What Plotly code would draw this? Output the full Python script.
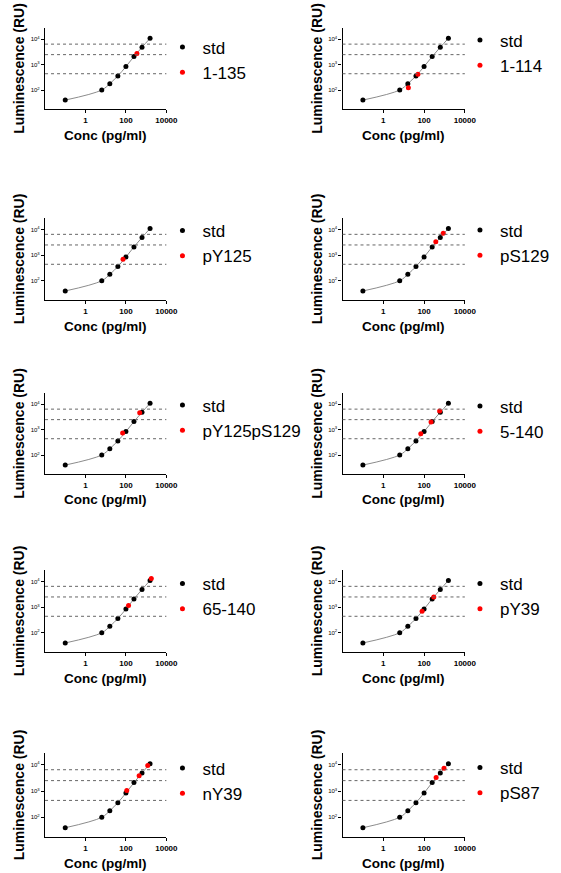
import plotly.graph_objects as go

# ---------------- data ----------------
std_conc = [0.1, 6.4, 16, 40, 100, 250, 625, 1562.5]
std_lum = [40, 100, 178, 360, 840, 2100, 4900, 11000]
threshold_lum = [6500, 2500, 440]

sample_names = ["1-135", "1-114", "pY125", "pS129", "pY125pS129",
                "5-140", "65-140", "pY39", "nY39", "pS87"]
sample_conc = [[350], [17, 50], [72], [376, 870], [69, 480],
               [69, 220, 580], [135, 1800], [80, 300], [110, 450, 1200], [390, 950]]
sample_lum = [[2800], [123, 415], [700], [3350, 7200], [740, 4700],
              [690, 2000, 5500], [1170, 13000], [700, 2500], [1050, 3800, 9500], [3300, 7400]]

x_tickvals = [1, 100, 10000]
x_ticktext = ["1", "100", "10000"]
y_tickvals = [100, 1000, 10000]
y_ticktext = ["10<sup>2</sup>", "10<sup>3</sup>", "10<sup>4</sup>"]
x_title = "Conc (pg/ml)"
y_title = "Luminescence (RU)"

# ---------------- layout geometry (pixels) ----------------
W, H = 561, 873
col_px = [(46, 170), (350, 475)]
row_px = [(28, 109), (218, 300), (393, 474), (570, 652), (753, 837)]
legend_text_px = [203, 507]
legend_top_off = [-6.5, -13.5, -13, -13.5, -13.5, -12.5, -12, -12, -10.5, -11]

FONT = "Arial, Liberation Sans, sans-serif"

fig = go.Figure()
layout = dict(
    width=W, height=H,
    margin=dict(l=0, r=0, t=0, b=0),
    paper_bgcolor="white", plot_bgcolor="white",
    font=dict(family=FONT, color="black"),
    showlegend=True,
    hovermode=False,
)
annotations = []

for i, name in enumerate(sample_names):
    r, c = divmod(i, 2)
    k = i + 1
    xa = "x" if k == 1 else f"x{k}"
    ya = "y" if k == 1 else f"y{k}"
    lg = "legend" if k == 1 else f"legend{k}"
    x0, x1 = col_px[c]
    top, bot = row_px[r]

    # fitted standard curve (library spline through the standards)
    fig.add_trace(go.Scatter(
        x=std_conc, y=std_lum, mode="lines",
        line=dict(color="#8c8c8c", width=1, shape="spline", smoothing=1),
        xaxis=xa, yaxis=ya, showlegend=False, hoverinfo="skip"))
    fig.add_trace(go.Scatter(
        x=std_conc, y=std_lum, mode="markers", name="std",
        marker=dict(color="black", size=5),
        xaxis=xa, yaxis=ya, legend=lg))
    fig.add_trace(go.Scatter(
        x=sample_conc[i], y=sample_lum[i], mode="markers", name=name,
        marker=dict(color="#ff0000", size=5),
        xaxis=xa, yaxis=ya, legend=lg))

    for t in threshold_lum:
        fig.add_shape(type="line", xref=f"{xa} domain", yref=ya,
                      x0=0, x1=1, y0=t, y1=t,
                      line=dict(color="#666666", width=1, dash="dot"))

    layout["xaxis" if k == 1 else f"xaxis{k}"] = dict(
        domain=[x0 / W, x1 / W], anchor=ya, type="log", range=[-2, 4],
        tickvals=x_tickvals, ticktext=x_ticktext,
        ticks="outside", ticklen=3, tickwidth=1, tickcolor="black",
        showline=True, linecolor="black", linewidth=1.3,
        showgrid=False, zeroline=False,
        tickfont=dict(size=8, weight="bold", family=FONT, color="black"),
    )
    annotations.append(dict(
        text=x_title, xref=f"{xa} domain", yref=f"{ya} domain",
        x=0.5, y=0, xanchor="center", yanchor="middle", yshift=-26,
        showarrow=False,
        font=dict(size=13.5, weight="bold", family=FONT, color="black")))
    layout["yaxis" if k == 1 else f"yaxis{k}"] = dict(
        domain=[1 - bot / H, 1 - top / H], anchor=xa, type="log",
        range=[1.25, 4.45],
        tickvals=y_tickvals, ticktext=y_ticktext,
        ticks="outside", ticklen=3, tickwidth=1, tickcolor="black",
        showline=True, linecolor="black", linewidth=1.3,
        showgrid=False, zeroline=False,
        tickfont=dict(size=6, family=FONT, color="black"),
        title=dict(text=y_title, standoff=2,
                   font=dict(size=14, weight="bold", family=FONT, color="black")),
    )
    layout[lg] = dict(
        x=(legend_text_px[c] - 37) / W, xanchor="left",
        y=1 - (top + legend_top_off[i] + 8) / H, yanchor="top",
        bgcolor="rgba(0,0,0,0)", borderwidth=0,
        font=dict(size=17, family=FONT, color="black"),
        itemwidth=30,
    )

layout["annotations"] = annotations
fig.update_layout(**layout)
fig.write_html("out.html",
               config={"displayModeBar": False},
               post_script="document.body.style.margin='0';")
